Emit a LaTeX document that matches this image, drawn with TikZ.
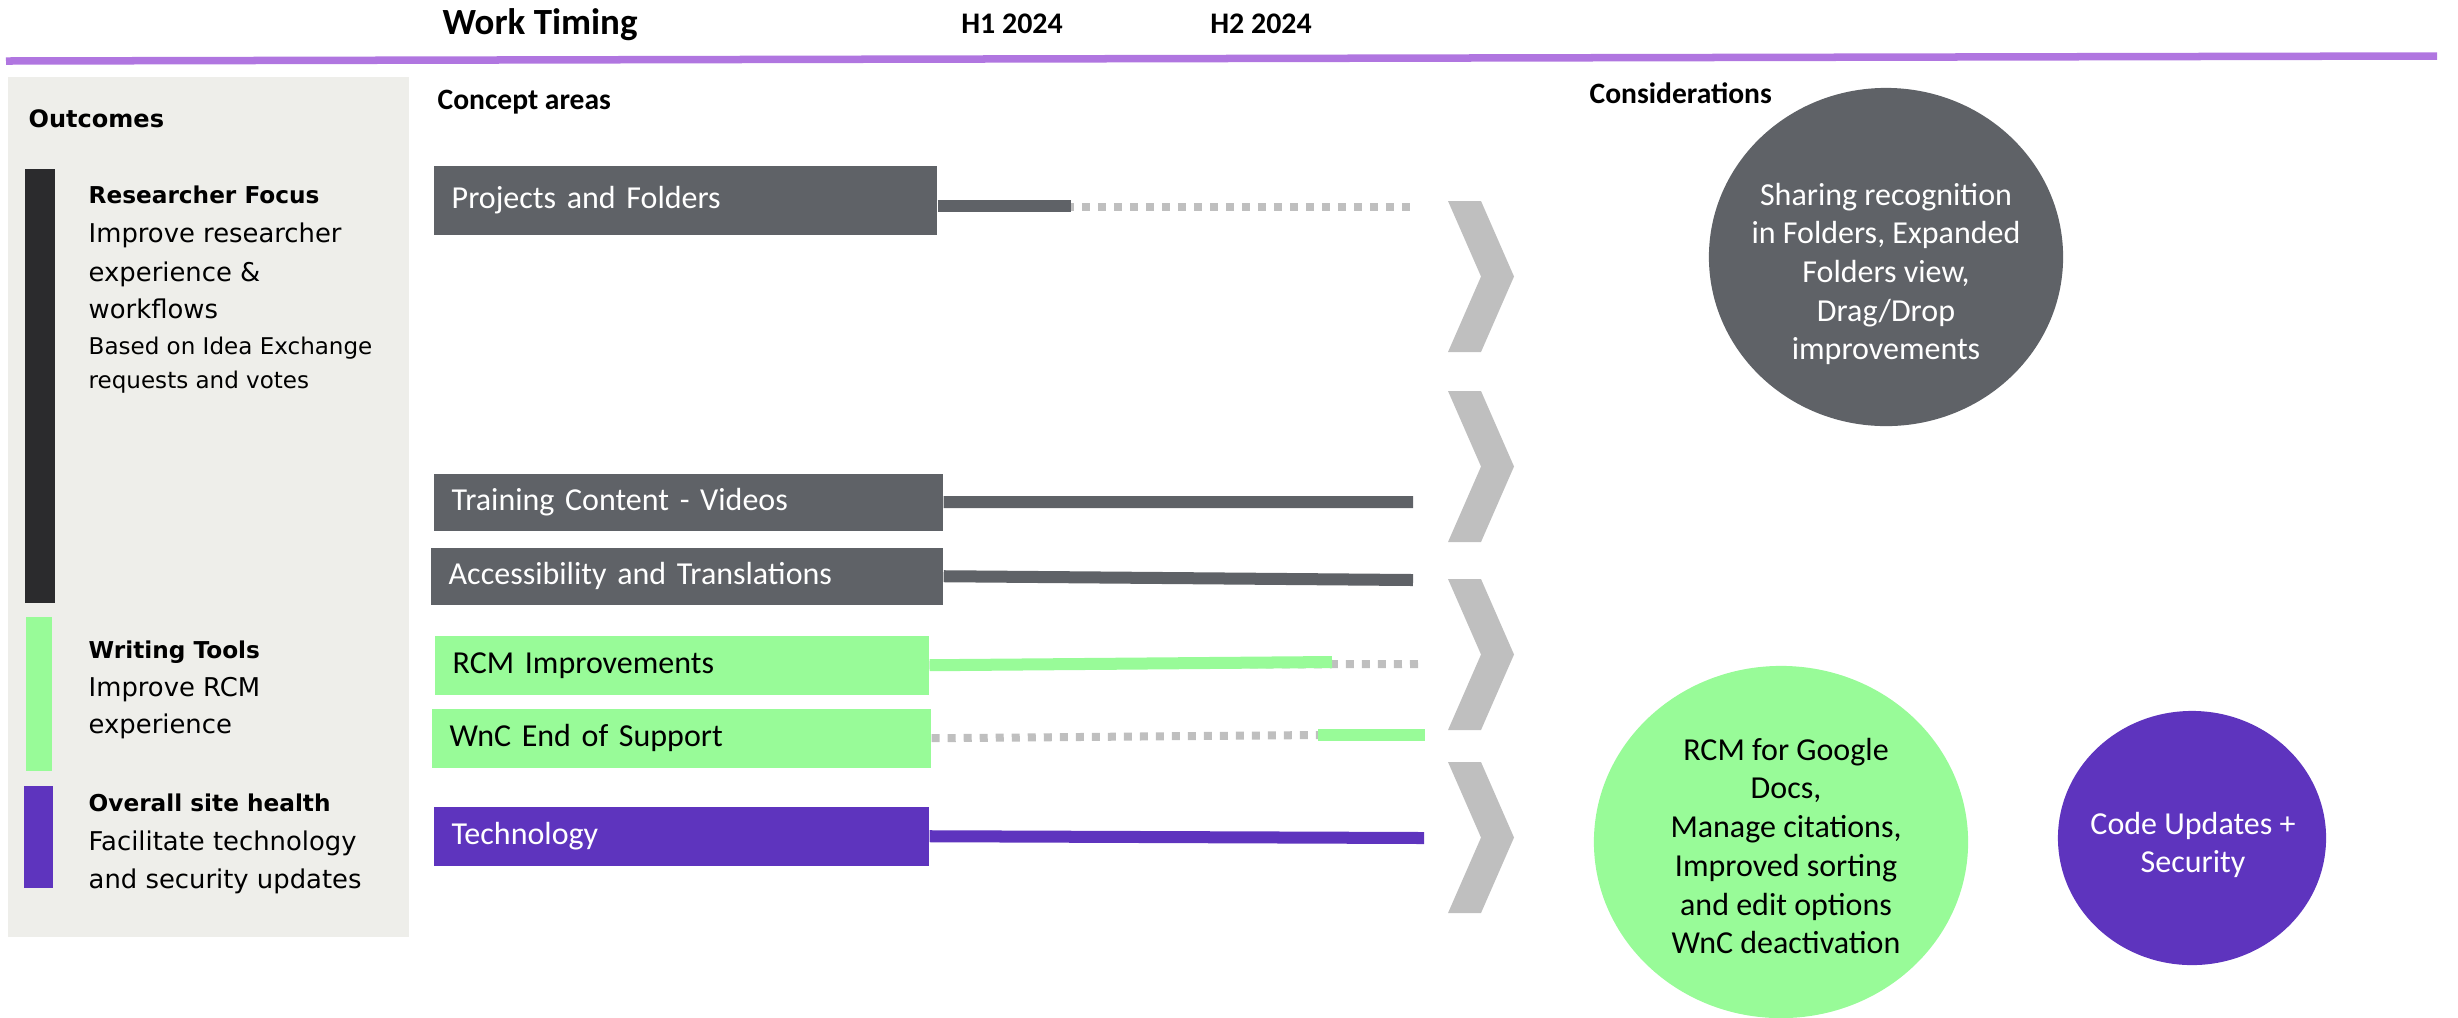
\documentclass[tikz,border=0pt]{standalone}
\usepackage{fontspec}
\setmainfont{Carlito}
\newfontfamily\verd{DejaVu Sans}
\usetikzlibrary{positioning, shapes.geometric}

\definecolor{boxgray}{RGB}{95,98,103}
\definecolor{barblack}{RGB}{43,43,45}
\definecolor{palegrn}{RGB}{152,251,152}
\definecolor{techpurple}{RGB}{94,52,190}
\definecolor{headpurple}{RGB}{176,118,224}
\definecolor{chevgray}{RGB}{191,191,191}
\definecolor{panelgray}{RGB}{238,238,234}

\begin{document}
\begin{tikzpicture}[x=0.01cm, y=-0.01cm,
    areabox/.style={anchor=north west, inner xsep=0.18cm, inner ysep=0pt, align=left, font=\fontsize{9.1}{11}\selectfont},
    outtitle/.style={anchor=base west, inner sep=0pt, font=\verd\bfseries\fontsize{6.6}{8}\selectfont},
    outtext/.style={anchor=base west, inner sep=0pt, font=\verd\fontsize{7.35}{9}\selectfont},
    outnote/.style={anchor=base west, inner sep=0pt, font=\verd\fontsize{6.55}{8}\selectfont},
    headtxt/.style={anchor=west, inner sep=0pt, font=\bfseries\fontsize{8.4}{10}\selectfont},
    consid/.style={ellipse, inner sep=0pt},
    constext/.style={align=center, inner sep=0pt, font=\fontsize{9.1}{11}\selectfont},
    solidbar/.style={line width=0.12cm},
    dotbar/.style={line width=0.08cm, chevgray, dash pattern=on 0.08cm off 0.08cm},
]
\useasboundingbox (0,0) rectangle (2458,1017);

% header
\node[anchor=west, inner sep=0pt, font=\bfseries\fontsize{10.5}{12}\selectfont] (worktiming) at (442,25) {Work Timing};
\node[inner sep=0pt, font=\bfseries\fontsize{8.5}{10}\selectfont] (h1) at (1012,24) {H1 2024};
\node[inner sep=0pt, font=\bfseries\fontsize{8.5}{10}\selectfont] (h2) at (1261,24) {H2 2024};
\draw[headpurple, line width=0.075cm] (6,61) -- (2437,56);

% outcomes panel
\fill[panelgray] (8,77) rectangle (409,937);
\node[outtitle, font=\verd\bfseries\fontsize{6.83}{8}\selectfont] (outc) at (28,127) {Outcomes};
\fill[barblack] (25,169) rectangle (55,603);
\fill[palegrn] (26,617) rectangle (52,771);
\fill[techpurple] (24,786) rectangle (53,888);

\node[outtitle] (rfT) at (88,203) {Researcher Focus};
\node[outtext] (rfD1) at (88,242) {Improve researcher};
\node[outtext] (rfD2) at (88,281) {experience \&};
\node[outtext] (rfD3) at (88,318) {workflows};
\node[outnote] (rfN1) at (88,354) {Based on Idea Exchange};
\node[outnote] (rfN2) at (88,388) {requests and votes};

\node[outtitle] (wtT) at (88,658) {Writing Tools};
\node[outtext] (wtD1) at (88,696) {Improve RCM};
\node[outtext] (wtD2) at (88,733) {experience};

\node[outtitle] (shT) at (88,811) {Overall site health};
\node[outtext] (shD1) at (88,850) {Facilitate technology};
\node[outtext] (shD2) at (88,888) {and security updates};

% concept areas
\node[headtxt] (concept) at (437,102) {Concept areas};
\node[areabox, fill=boxgray, text=white, text width=4.67cm, minimum height=0.69cm] (pf) at (433,165) {Projects and Folders};
\node[areabox, fill=boxgray, text=white, text width=4.73cm, minimum height=0.57cm] (tc) at (433,473) {Training Content - Videos};
\node[areabox, fill=boxgray, text=white, text width=4.76cm, minimum height=0.57cm] (at) at (430,547) {Accessibility and Translations};
\node[areabox, fill=palegrn, text width=4.58cm, minimum height=0.59cm] (rcm) at (434,635) {RCM Improvements};
\node[areabox, fill=palegrn, text width=4.63cm, minimum height=0.59cm] (wnc) at (431,708) {WnC End of Support};
\node[areabox, fill=techpurple, text=white, text width=4.59cm, minimum height=0.59cm] (tech) at (433,806) {Technology};

% timing bars
\coordinate (pfH1) at (1071,206);
\coordinate (pfEnd) at (1410,207);
\draw[dotbar] (pf.east |- pfEnd) -- (pfEnd);
\draw[solidbar, boxgray] (pf.east |- pfH1) -- (pfH1);
\coordinate (tcEnd) at (1413,502);
\draw[solidbar, boxgray] (tc.east) -- (tcEnd);
\coordinate (atEnd) at (1413,580);
\draw[solidbar, boxgray] (at.east) -- (atEnd);
\coordinate (rcmH2) at (1332,662);
\coordinate (rcmEnd) at (1423,664);
\draw[dotbar] (rcm.east) -- (rcmEnd);
\draw[solidbar, palegrn] (rcm.east) -- (rcmH2);
\coordinate (wncH2) at (1318,735);
\coordinate (wncEnd) at (1425,735);
\draw[dotbar] (wnc.east) -- (wncH2);
\draw[solidbar, palegrn] (wncH2) -- (wncEnd);
\coordinate (techEnd) at (1424,838);
\draw[solidbar, techpurple] (tech.east) -- (techEnd);

% chevrons
\foreach \t in {201,391,579,762}
  \fill[chevgray] (1448,\t) -- ++(33,0) -- ++(33,75.5) -- ++(-33,75.5) -- ++(-33,0) -- ++(33,-75.5) -- cycle;

% considerations
\node[headtxt] (considerations) at (1589,93) {Considerations};
\node[consid, fill=boxgray, minimum width=3.54cm, minimum height=3.38cm] (cFold) at (1886,257) {};
\node[consid, fill=palegrn, minimum width=3.74cm, minimum height=3.52cm] (cWrite) at (1781,842) {};
\node[consid, fill=techpurple, minimum width=2.68cm, minimum height=2.54cm] (cTech) at (2192,838) {};
\node[constext, text=white] (cFoldTxt) at (1886,274) {Sharing recognition\\in Folders, Expanded\\Folders view,\\Drag/Drop\\improvements};
\node[constext] (cWriteTxt) at (1786,846) {RCM for Google\\Docs,\\Manage citations,\\Improved sorting\\and edit options\\WnC deactivation};
\node[constext, text=white] (cTechTxt) at (2193,845) {Code Updates +\\Security};
\end{tikzpicture}
\end{document}
